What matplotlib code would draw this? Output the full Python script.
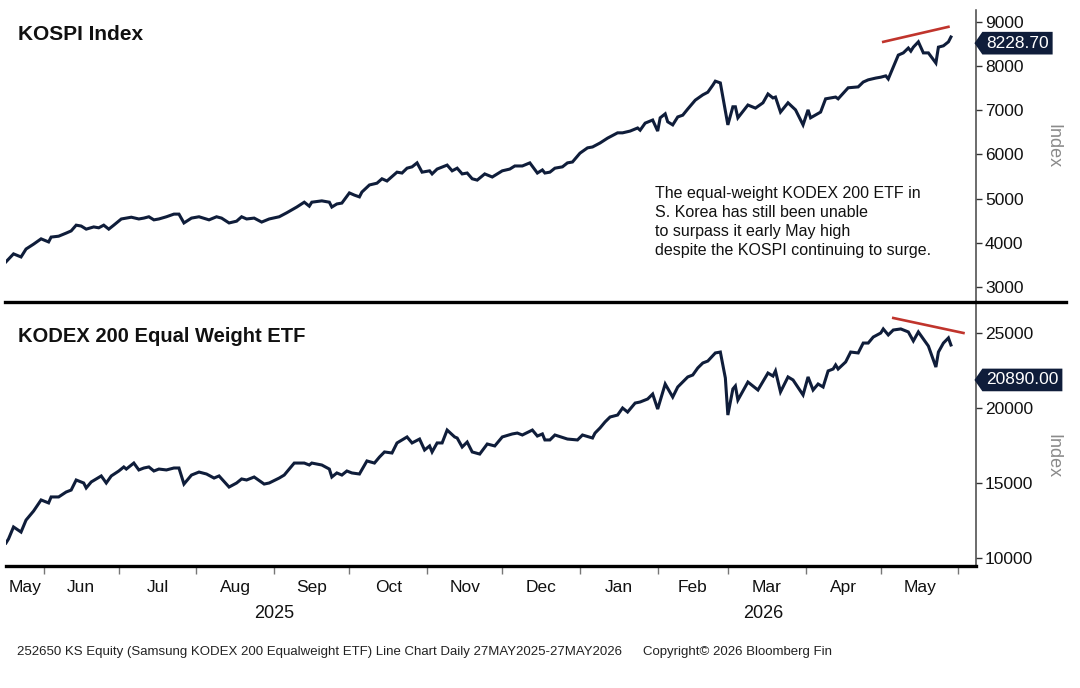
import matplotlib
matplotlib.use('Agg')
import matplotlib.pyplot as plt
import matplotlib.transforms as mtransforms
from matplotlib.lines import Line2D
from matplotlib.path import Path
import pandas as pd

plt.rcParams['font.family'] = ['Liberation Sans', 'DejaVu Sans']

# ---- data (day offset from start, value) ----
start = pd.Timestamp('2025-05-17')

kospi_day = [0, 3, 6, 8, 11, 14, 17, 18, 21, 24, 26, 28, 30, 32, 35, 37, 39, 41, 43, 46,
             50, 53, 55, 57, 59, 61, 64, 67, 69, 71, 74, 77, 81, 84, 86, 89, 92, 94, 96, 99,
             102, 105, 109, 112, 116, 119, 121, 122, 126, 129, 130, 132, 134, 137, 139, 141, 142, 145, 148, 150,
             152, 156, 158, 160, 162, 164, 166, 169, 170, 172, 176, 178, 180, 182, 184, 186, 188, 191, 194, 198,
             201, 203, 206, 209, 212, 214, 215, 217, 219, 222, 224, 226, 229, 232, 234, 237, 240, 244, 246, 249,
             252, 253, 255, 258, 260, 261, 263, 264, 266, 268, 270, 272, 275, 278, 280, 282, 283, 285, 286, 288,
             290, 291, 292, 296, 299, 302, 304, 306, 307, 309, 312, 315, 318, 320, 321, 325, 327, 329, 331, 332,
             336, 340, 342, 344, 347, 349, 351, 352, 354, 356, 358, 360, 361, 362, 364, 366, 368, 371, 372, 374,
             376, 377]
kospi = [3570, 3750, 3680, 3860, 3970, 4090, 4020, 4130, 4150, 4220, 4270, 4400, 4380, 4310, 4360, 4340, 4400, 4310, 4400, 4540,
         4580, 4540, 4560, 4590, 4520, 4540, 4590, 4650, 4650, 4450, 4560, 4590, 4520, 4590, 4560, 4450, 4490, 4590, 4540, 4560,
         4470, 4540, 4590, 4680, 4810, 4920, 4830, 4920, 4950, 4920, 4810, 4880, 4900, 5130, 5080, 5040, 5150, 5310, 5350, 5450,
         5400, 5600, 5580, 5690, 5720, 5810, 5600, 5630, 5560, 5670, 5760, 5630, 5690, 5560, 5580, 5450, 5420, 5560, 5490, 5630,
         5670, 5740, 5740, 5810, 5580, 5650, 5580, 5600, 5690, 5720, 5810, 5830, 6030, 6150, 6170, 6260, 6370, 6490, 6490, 6530,
         6600, 6550, 6710, 6780, 6530, 6830, 6920, 6740, 6670, 6850, 6890, 7030, 7230, 7350, 7410, 7570, 7660, 7620, 7300, 6670,
         7080, 7080, 6830, 7120, 7050, 7170, 7370, 7280, 7300, 6960, 7170, 7010, 6670, 7010, 6830, 6960, 7260, 7280, 7300, 7260,
         7510, 7530, 7640, 7690, 7730, 7750, 7780, 7710, 7980, 8250, 8300, 8410, 8340, 8430, 8550, 8300, 8300, 8070, 8430, 8460,
         8550, 8660]

kodex_day = [0, 1, 3, 6, 8, 11, 14, 17, 18, 21, 24, 26, 28, 31, 32, 34, 38, 40, 42, 45,
             47, 48, 51, 53, 55, 57, 59, 61, 64, 67, 69, 71, 74, 77, 80, 83, 85, 89, 92, 94,
             96, 99, 103, 105, 109, 111, 115, 119, 121, 122, 126, 129, 130, 132, 134, 136, 138, 141, 144, 147,
             149, 151, 154, 156, 160, 162, 165, 167, 169, 170, 172, 174, 176, 179, 180, 182, 184, 186, 189, 192,
             195, 198, 202, 204, 206, 210, 212, 214, 215, 217, 219, 224, 228, 230, 234, 235, 237, 239, 241, 244,
             246, 248, 251, 253, 256, 258, 260, 263, 266, 268, 270, 272, 274, 276, 278, 280, 283, 285, 287, 288,
             290, 291, 292, 296, 300, 304, 306, 307, 309, 312, 314, 318, 320, 322, 324, 326, 328, 330, 331, 332,
             335, 337, 340, 342, 344, 346, 349, 350, 352, 354, 357, 360, 362, 364, 366, 368, 371, 372, 374, 376,
             377]
kodex = [11000, 11270, 12070, 11730, 12530, 13130, 13870, 13670, 14070, 14070, 14400, 14530, 15200, 15000, 14670, 15070, 15470, 15000, 15470, 15800,
         16070, 15930, 16330, 15870, 16000, 16070, 15800, 15930, 15870, 16000, 16000, 14930, 15530, 15730, 15600, 15330, 15470, 14730, 15000, 15270,
         15200, 15400, 14930, 15000, 15330, 15530, 16330, 16330, 16200, 16330, 16200, 15930, 15400, 15670, 15530, 15800, 15670, 15600, 16470, 16330,
         16730, 17070, 17000, 17670, 18070, 17670, 17930, 17200, 17470, 17070, 17670, 17670, 18530, 18070, 18000, 17400, 17730, 17070, 16930, 17600,
         17470, 18070, 18270, 18330, 18200, 18530, 18130, 18270, 17870, 17870, 18200, 17930, 17870, 18200, 18000, 18330, 18670, 19070, 19400, 19530,
         20000, 19730, 20330, 20400, 20600, 20930, 19930, 21600, 20730, 21400, 21730, 22070, 22200, 22670, 23000, 23130, 23670, 23730, 22000, 19530,
         21270, 21470, 20530, 21730, 21200, 22330, 22130, 22470, 21070, 22070, 21870, 20870, 22070, 21200, 21600, 21400, 22470, 22600, 22870, 22600,
         23070, 23730, 23670, 24330, 24330, 24730, 25000, 25270, 24870, 25200, 25270, 25070, 24470, 25070, 24600, 24130, 22730, 23730, 24330, 24670,
         24200]

kospi_trend_day = [350, 376]
kospi_trend = [8550, 8890]
kodex_trend_day = [354, 382]
kodex_trend = [26000, 25000]

kospi_ticks = [3000, 4000, 5000, 6000, 7000, 8000, 9000]
kodex_ticks = [10000, 15000, 20000, 25000]
kospi_last, kospi_last_pos = '8228.70', 8520
kodex_last, kodex_last_pos = '20890.00', 21870

month_names = ['May', 'Jun', 'Jul', 'Aug', 'Sep', 'Oct', 'Nov', 'Dec',
               'Jan', 'Feb', 'Mar', 'Apr', 'May']

note = ('The equal-weight KODEX 200 ETF in\n'
        'S. Korea has still been unable\n'
        'to surpass it early May high\n'
        'despite the KOSPI continuing to surge.')
footer = ('252650 KS Equity (Samsung KODEX 200 Equalweight ETF) '
          'Line Chart Daily 27MAY2025-27MAY2026')

navy = '#0f1d3a'
red = '#c0342c'


def to_dates(days):
    return start + pd.to_timedelta(days, unit='D')


def tag_box(x0, y0, width, height, mutation_size):
    pad = 0.22 * mutation_size
    x0, y0 = x0 - pad, y0 - pad
    x1, y1 = x0 + width + 2 * pad, y0 + height + 2 * pad
    tip = 0.35 * (y1 - y0)
    return Path([(x0, y0), (x1, y0), (x1, y1), (x0, y1),
                 (x0 - tip, (y0 + y1) / 2), (x0, y0)], closed=True)


W, H = 1080, 688
fig = plt.figure(figsize=(W / 100, H / 100), dpi=100)
ax1 = fig.add_axes([6 / W, 1 - 301 / H, 970 / W, 291 / H])
ax2 = fig.add_axes([6 / W, 1 - 566 / H, 970 / W, 265 / H])

xlim = (start, start + pd.Timedelta(days=387))

ax1.plot(to_dates(kospi_day), kospi, color=navy, lw=2.2, solid_joinstyle='miter')
ax1.plot(to_dates(kospi_trend_day), kospi_trend, color=red, lw=1.9)
ax2.plot(to_dates(kodex_day), kodex, color=navy, lw=2.2, solid_joinstyle='miter')
ax2.plot(to_dates(kodex_trend_day), kodex_trend, color=red, lw=1.9)

ax1.set_ylim(2683, 9271)
ax2.set_ylim(9467, 27133)

for ax, ticks in ((ax1, kospi_ticks), (ax2, kodex_ticks)):
    ax.set_xlim(*xlim)
    ax.set_yticks(ticks)
    ax.yaxis.tick_right()
    ax.tick_params(axis='y', direction='out', length=4, width=1, color='#333',
                   labelcolor='#111', labelsize=12.5, pad=2.5)
    for s in ('left', 'top', 'bottom'):
        ax.spines[s].set_visible(False)
    ax.spines['right'].set_color('#444')
    ax.spines['right'].set_linewidth(1.1)

ax1.set_xticks([])
ax2.spines['bottom'].set_visible(True)
ax2.spines['bottom'].set_linewidth(2.4)
ax2.spines['bottom'].set_color('black')

# month ticks at month starts, labels centred mid-month
bounds = [xlim[0]] + list(pd.date_range('2025-06-01', '2026-06-01', freq='MS'))
mids = [bounds[i] + (bounds[i + 1] - bounds[i]) / 2 for i in range(len(bounds) - 1)]
ax2.set_xticks(bounds[1:])
ax2.set_xticklabels([])
ax2.set_xticks(mids, month_names, minor=True)
ax2.tick_params(axis='x', which='major', length=6, width=1, color='#777')
ax2.tick_params(axis='x', which='minor', length=0, pad=10, labelsize=12.5, labelcolor='#111')

bt = mtransforms.blended_transform_factory(ax2.transData, ax2.transAxes)
ax2.text(pd.Timestamp('2025-09-01'), -0.178, '2025', transform=bt,
         ha='center', va='center', fontsize=13, color='#111')
ax2.text(pd.Timestamp('2026-03-15'), -0.178, '2026', transform=bt,
         ha='center', va='center', fontsize=13, color='#111')

# last-value tags
for ax, txt, pos in ((ax1, kospi_last, kospi_last_pos), (ax2, kodex_last, kodex_last_pos)):
    tt = mtransforms.blended_transform_factory(ax.transAxes, ax.transData)
    ax.text(1.0105, pos, txt, transform=tt, ha='left', va='center',
            fontsize=12.5, color='white', clip_on=False,
            bbox=dict(boxstyle=tag_box, fc=navy, ec='none'))

# panel separator
fig.add_artist(Line2D([5 / W, 1066 / W], [1 - 301.5 / H] * 2,
                      transform=fig.transFigure, color='black', lw=2.4))

fig.text(18 / W, 1 - 34 / H, 'KOSPI Index', fontsize=15, fontweight='bold',
         va='center', color='#111')
fig.text(18 / W, 1 - 336 / H, 'KODEX 200 Equal Weight ETF', fontsize=14.5,
         fontweight='bold', va='center', color='#111')
fig.text(1053 / W, 1 - 146 / H, 'Index', rotation=270, color='#8a8a8a',
         fontsize=13, ha='center', va='center')
fig.text(1053 / W, 1 - 456 / H, 'Index', rotation=270, color='#8a8a8a',
         fontsize=13, ha='center', va='center')
fig.text(655 / W, 1 - 222 / H, note, fontsize=11.5, linespacing=1.36,
         ha='left', va='center', color='#111')
fig.text(17 / W, 1 - 652 / H, footer, fontsize=9.5, va='center', color='#222')
fig.text(643 / W, 1 - 652 / H, 'Copyright\u00a9 2026 Bloomberg Fin', fontsize=9.5,
         va='center', color='#222')

fig.savefig('out.png', dpi=100, facecolor='white')
